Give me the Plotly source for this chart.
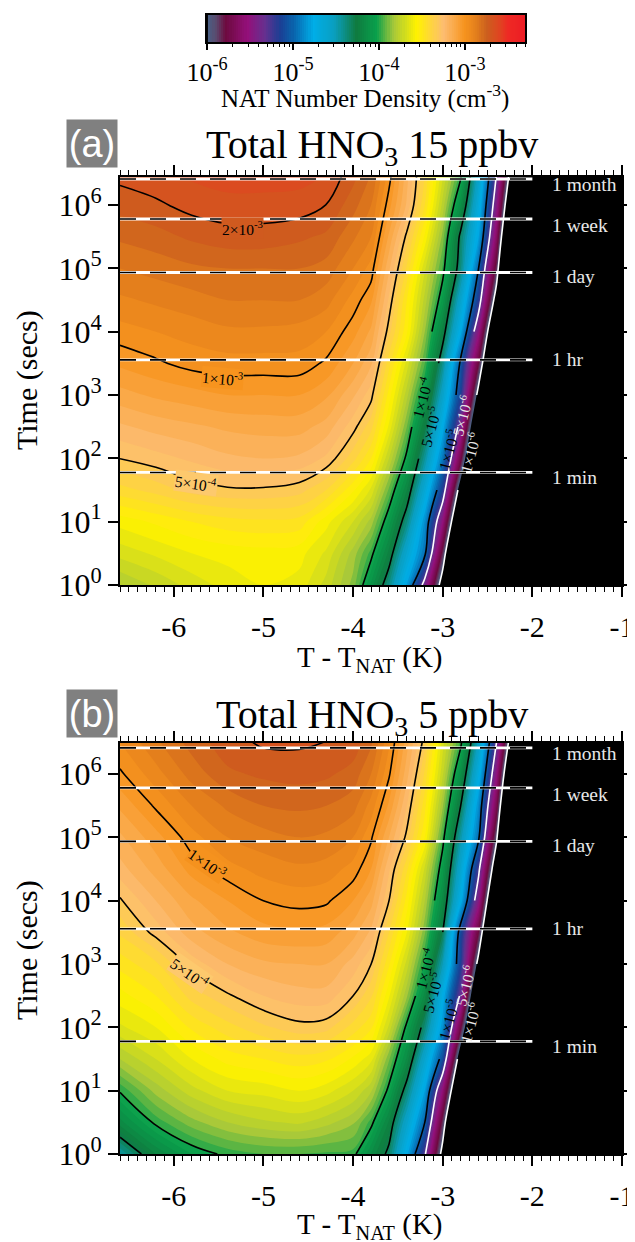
import numpy as np
import plotly.graph_objects as go

W, H = 635, 1242
OFF = 8   # the page adds an 8 px margin at the left and top

# ---------- data (log10 of NAT number density, cm-3) ----------
T_MINUS_TNAT = [-6.6, -6.2, -5.8, -5.4, -5.0, -4.6, -4.3, -4.0, -3.8, -3.6, -3.4, -3.2, -3.0, -2.8, -2.6, -2.4, -2.2, -2.0, -1.0]
LOG_TIME = [0, 0.5, 1, 1.5, 2, 2.5, 3, 3.5, 4, 4.5, 5, 5.5, 6, 6.5]

BLK = [-7.6] * 14

# one list per temperature column, rows follow LOG_TIME
density_a = [
    [-3.80, -3.68, -3.58, -3.42, -3.30, -3.21, -3.12, -3.04, -2.97, -2.91, -2.85, -2.79, -2.73, -2.68],
    [-3.74, -3.64, -3.54, -3.38, -3.27, -3.18, -3.09, -3.01, -2.95, -2.89, -2.83, -2.77, -2.71, -2.66],
    [-3.68, -3.60, -3.50, -3.33, -3.24, -3.16, -3.07, -2.98, -2.93, -2.87, -2.81, -2.74, -2.68, -2.64],
    [-3.63, -3.58, -3.47, -3.31, -3.21, -3.14, -3.05, -2.97, -2.91, -2.85, -2.80, -2.72, -2.67, -2.62],
    [-3.60, -3.57, -3.46, -3.31, -3.20, -3.13, -3.05, -2.97, -2.91, -2.85, -2.80, -2.72, -2.67, -2.62],
    [-3.62, -3.58, -3.47, -3.33, -3.21, -3.13, -3.05, -2.97, -2.92, -2.85, -2.80, -2.74, -2.67, -2.63],
    [-3.72, -3.66, -3.58, -3.40, -3.26, -3.17, -3.09, -3.01, -2.95, -2.88, -2.82, -2.76, -2.70, -2.65],
    [-3.87, -3.82, -3.70, -3.54, -3.38, -3.28, -3.19, -3.10, -3.03, -2.97, -2.90, -2.84, -2.78, -2.73],
    [-4.11, -3.97, -3.82, -3.66, -3.50, -3.38, -3.28, -3.19, -3.11, -3.04, -2.97, -2.90, -2.85, -2.80],
    [-4.40, -4.22, -4.07, -3.91, -3.75, -3.61, -3.52, -3.43, -3.33, -3.26, -3.19, -3.11, -3.03, -2.97],
    [-4.81, -4.61, -4.39, -4.20, -4.03, -3.90, -3.78, -3.67, -3.54, -3.50, -3.41, -3.32, -3.21, -3.18],
    [-5.39, -4.96, -4.86, -4.64, -4.44, -4.26, -4.09, -3.95, -3.85, -3.77, -3.69, -3.56, -3.45, -3.40],
    [-6.15, -5.84, -5.52, -5.17, -4.93, -4.75, -4.57, -4.41, -4.23, -4.07, -3.96, -3.87, -3.77, -3.69],
    [-7.20, -6.90, -6.50, -6.15, -5.73, -5.40, -5.15, -5.04, -4.76, -4.59, -4.39, -4.34, -4.14, -3.97],
    [-7.60, -7.60, -7.40, -7.10, -6.80, -6.45, -6.10, -5.78, -5.49, -5.18, -5.00, -4.79, -4.68, -4.56],
    [-7.60, -7.60, -7.60, -7.60, -7.60, -7.60, -7.20, -6.80, -6.50, -6.15, -5.85, -5.62, -5.45, -5.30],
    [-7.60, -7.60, -7.60, -7.60, -7.60, -7.60, -7.60, -7.60, -7.60, -7.60, -7.40, -7.00, -6.60, -6.30],
    BLK,
    BLK,
]

density_b = [
    [-4.45, -4.17, -3.99, -3.80, -3.66, -3.57, -3.48, -3.39, -3.31, -3.22, -3.16, -3.09, -3.01, -2.95],
    [-4.20, -3.98, -3.83, -3.70, -3.60, -3.50, -3.41, -3.28, -3.20, -3.13, -3.07, -2.99, -2.92, -2.86],
    [-4.05, -3.87, -3.72, -3.60, -3.49, -3.38, -3.28, -3.17, -3.11, -3.03, -2.97, -2.90, -2.83, -2.78],
    [-3.98, -3.80, -3.65, -3.53, -3.42, -3.31, -3.20, -3.11, -3.05, -2.97, -2.90, -2.84, -2.76, -2.72],
    [-3.95, -3.76, -3.63, -3.50, -3.36, -3.25, -3.16, -3.07, -3.00, -2.93, -2.87, -2.80, -2.74, -2.69],
    [-3.95, -3.74, -3.60, -3.47, -3.32, -3.22, -3.15, -3.06, -2.98, -2.91, -2.85, -2.79, -2.73, -2.69],
    [-3.96, -3.78, -3.63, -3.49, -3.33, -3.22, -3.15, -3.07, -2.99, -2.92, -2.86, -2.80, -2.74, -2.70],
    [-3.97, -3.84, -3.70, -3.56, -3.42, -3.30, -3.22, -3.13, -3.05, -2.97, -2.90, -2.83, -2.77, -2.72],
    [-4.15, -3.97, -3.79, -3.63, -3.49, -3.39, -3.30, -3.21, -3.13, -3.05, -2.99, -2.92, -2.85, -2.79],
    [-4.34, -4.21, -4.03, -3.89, -3.71, -3.59, -3.49, -3.40, -3.30, -3.24, -3.15, -3.06, -2.99, -2.94],
    [-4.77, -4.58, -4.37, -4.16, -4.03, -3.84, -3.72, -3.60, -3.52, -3.44, -3.32, -3.25, -3.18, -3.13],
    [-5.27, -5.00, -4.80, -4.60, -4.37, -4.17, -4.02, -3.89, -3.80, -3.71, -3.55, -3.48, -3.41, -3.33],
    [-6.10, -5.85, -5.55, -5.09, -4.85, -4.73, -4.50, -4.30, -4.17, -4.07, -3.96, -3.84, -3.74, -3.68],
    [-7.20, -6.90, -6.50, -6.20, -5.75, -5.34, -5.15, -5.10, -4.74, -4.61, -4.47, -4.30, -4.14, -3.97],
    [-7.60, -7.60, -7.40, -7.10, -6.80, -6.50, -6.10, -5.78, -5.46, -5.25, -4.97, -4.86, -4.70, -4.54],
    [-7.60, -7.60, -7.60, -7.60, -7.60, -7.60, -7.20, -6.90, -6.60, -6.25, -5.95, -5.70, -5.50, -5.30],
    [-7.60, -7.60, -7.60, -7.60, -7.60, -7.60, -7.60, -7.60, -7.60, -7.60, -7.50, -7.10, -6.70, -6.35],
    BLK,
    BLK,
]

CONTOUR_LEVELS = [2e-3, 1e-3, 5e-4, 1e-4, 5e-5, 1e-5, 5e-6, 1e-6]
LINE_COLORS = ["black"] * 6 + ["white"] * 2
# rows of LOG_TIME left out of a line, where its rotated label sits
LABEL_GAP_ROWS = {1e-4: (5, 7), 5e-5: (4, 6), 1e-5: (3, 5), 5e-6: (5, 7), 1e-6: (3, 5)}

TIME_MARKS = [60, 3600, 86400, 604800, 2592000]
TIME_NAMES = ["1 min", "1 hr", "1 day", "1 week", "1 month"]
TIME_NAME_SHIFT = [5, 0, 4, 6, 5]

COLOR_STOPS = [
    (-6.00, "#46648a"), (-5.90, "#5a4a6e"), (-5.78, "#6d0a3f"), (-5.53, "#94107a"),
    (-5.33, "#66308f"), (-5.15, "#1b3f94"), (-5.00, "#0a62ab"), (-4.76, "#00aee8"),
    (-4.52, "#0a9fc0"), (-4.26, "#0f7b3f"), (-4.03, "#09a04c"), (-3.83, "#a7c83a"),
    (-3.56, "#fff200"), (-3.25, "#fdbd72"), (-3.00, "#f7941e"), (-2.85, "#e07b1c"),
    (-2.75, "#cc5f1e"), (-2.62, "#dc4a20"), (-2.50, "#ee2a24"), (-2.30, "#ed1c24"),
]

CB_TICKS = [1e-6, 1e-5, 1e-4, 1e-3]
CB_TICK_TEXT = ["10<sup>-6</sup>", "10<sup>-5</sup>", "10<sup>-4</sup>", "10<sup>-3</sup>"]
Y_TICKS = [1, 10, 100, 1000, 1e4, 1e5, 1e6]
Y_TICK_TEXT = ["10<sup>%d</sup>" % i for i in range(7)]
X_TICKS = [-6, -5, -4, -3, -2, -1]
X_TICK_TEXT = ["-6", "-5", "-4", "-3", "-2", "-1"]

# ---------- helpers ----------
SERIF = "Liberation Serif"
SANS = "Liberation Sans"
LSTART, LSIZE = -6.0, 0.05
LEND = -2.3
LO, HI = LSTART - LSIZE / 2, LSTART + 75 * LSIZE - LSIZE / 2
def nrm(v):
    return (v - LO) / (HI - LO)
colorscale = [[0, "#000000"], [nrm(-6.0), "#000000"]]
for v, c in COLOR_STOPS:
    colorscale.append([min(1, nrm(v) + 1e-6), c])
colorscale.append([1, COLOR_STOPS[-1][1]])

def fx(px): return (px - OFF) / W
def fy(py): return 1 - (py - OFF) / H

ys = [10 ** v for v in LOG_TIME]
fig = go.Figure()

panels = [
    dict(z=np.array(density_a).T, xa="x", ya="y"),
    dict(z=np.array(density_b).T, xa="x2", ya="y2"),
]
for p in panels:
    z = p["z"]
    fig.add_trace(go.Contour(
        x=T_MINUS_TNAT, y=ys, z=z, xaxis=p["xa"], yaxis=p["ya"], colorscale=colorscale,
        autocontour=False, showscale=False,
        contours=dict(coloring="fill", start=LSTART, end=LEND, size=LSIZE),
        line=dict(width=0, smoothing=1.0), hoverinfo="skip"))
    for lev, col in zip(CONTOUR_LEVELS, LINE_COLORS):
        lz = float(np.log10(lev))
        gap = LABEL_GAP_ROWS.get(lev)
        spans = [(0, len(LOG_TIME))] if gap is None else [(0, gap[0] + 1), (gap[1] + 1, len(LOG_TIME))]
        for i0, i1 in spans:
            fig.add_trace(go.Contour(
                x=T_MINUS_TNAT, y=ys[i0:i1], z=z[i0:i1], xaxis=p["xa"], yaxis=p["ya"],
                autocontour=False, showscale=False, colorscale=[[0, col], [1, col]],
                contours=dict(coloring="none", start=lz, end=lz, size=1),
                line=dict(color=col, width=1.6, smoothing=1.0), hoverinfo="skip"))
    for t in TIME_MARKS:
        fig.add_trace(go.Scatter(x=[-6.6, -2.0], y=[t, t], xaxis=p["xa"], yaxis=p["ya"], mode="lines",
                                 line=dict(color="white", width=2.8), hoverinfo="skip", showlegend=False))
        fig.add_trace(go.Scatter(x=[-6.6, -2.0], y=[t, t], xaxis=p["xa"], yaxis=p["ya"], mode="lines",
                                 line=dict(color="black", width=1.6, dash="16px,14px"), hoverinfo="skip", showlegend=False))

# colour bar strip
cb_levels = np.linspace(-6.0, -2.3, 150)
fig.add_trace(go.Heatmap(x=10 ** cb_levels, y=[0, 1], z=[cb_levels, cb_levels], xaxis="x3", yaxis="y3",
                         colorscale=colorscale, zmin=LO, zmax=HI, showscale=False, hoverinfo="skip"))

def x_axis(domain, anchor):
    return dict(domain=domain, anchor=anchor, range=[-6.6, -1], tickmode="array", tickvals=X_TICKS, ticktext=X_TICK_TEXT,
                ticks="outside", ticklen=10, tickwidth=1.5, linewidth=2, linecolor="black", mirror="ticks",
                showgrid=False, zeroline=False, automargin=False,
                tickfont=dict(family=SERIF, size=30, color="black"), tickcolor="black",
                minor=dict(dtick=0.1, tick0=-7, ticks="outside", ticklen=5, tickwidth=1.2, tickcolor="black", showgrid=False),
                ticklabelstandoff=4)

def y_axis(domain, anchor, top):
    return dict(domain=domain, anchor=anchor, type="log", range=[0, top], tickmode="array", tickvals=Y_TICKS,
                ticktext=Y_TICK_TEXT, ticks="outside", ticklen=10, tickwidth=1.5, linewidth=2, linecolor="black",
                mirror="ticks", showgrid=False, zeroline=False, tickcolor="black", automargin=False,
                tickfont=dict(family=SERIF, size=32, color="black"))

xdom = [fx(120), fx(622)]
minor_vals = [m * 10 ** e for e in range(-6, -2) for m in range(2, 10) if m * 10 ** e <= 5.01e-3]
fig.update_layout(
    width=W, height=H, margin=dict(l=0, r=0, t=0, b=0, autoexpand=False), paper_bgcolor="white", plot_bgcolor="black",
    showlegend=False, font=dict(family=SERIF, color="black"),
    xaxis=x_axis(xdom, "y"), yaxis=y_axis([fy(585), fy(177)], "x", 6.445),
    xaxis2=x_axis(xdom, "y2"), yaxis2=y_axis([fy(1154), fy(743)], "x2", 6.49),
    xaxis3=dict(domain=[fx(207), fx(525)], anchor="y3", type="log", range=[-6, np.log10(5e-3)], tickmode="array",
                tickvals=CB_TICKS, ticktext=CB_TICK_TEXT, ticks="outside", ticklen=6, tickwidth=1.5, tickcolor="black",
                linewidth=2, linecolor="black", mirror=True, showgrid=False, zeroline=False, automargin=False,
                tickfont=dict(family=SERIF, size=26, color="black"),
                minor=dict(tickmode="array", tickvals=minor_vals, ticks="outside", ticklen=3, tickwidth=1, tickcolor="black", showgrid=False)),
    yaxis3=dict(domain=[fy(42), fy(15)], anchor="x3", range=[0, 1], showticklabels=False, ticks="", linewidth=2,
                linecolor="black", mirror=True, showgrid=False, zeroline=False),
)

def note(text, px, py, size, color="black", family=SERIF, angle=0, anchor="center", bg=None, **kw):
    fig.add_annotation(text=text, x=fx(px), y=fy(py), xref="paper", yref="paper", showarrow=False, xanchor=anchor,
                       yanchor="middle", textangle=angle, font=dict(family=family, size=size, color=color),
                       bgcolor=bg, borderpad=0, **kw)

note("NAT Number Density (cm<sup>-3</sup>)", 365, 97, 25)
note("Total HNO<sub>3</sub> 15 ppbv", 372, 147, 40)
note("Total HNO<sub>3</sub> 5 ppbv", 372, 717, 40)
note("(a)", 92, 143, 38, color="white", family=SANS, bg="#808080", width=50, height=47, align="center")
note("(b)", 92, 713, 38, color="white", family=SANS, bg="#808080", width=50, height=47, align="center")
for py in (659, 1226):
    note("T - T<sub>NAT</sub> (K)", 370, py, 29)
for py in (380, 950):
    note("Time (secs)", 27, py, 30, angle=-90)

for bot in (585, 1154):
    scale = 63.3
    for t, name, shift in zip(TIME_MARKS, TIME_NAMES, TIME_NAME_SHIFT):
        py = bot - np.log10(t) * scale + shift
        note(name, 551, py, 19.5, color="#e8e8e8", anchor="left")

LBL = 15.5
for txt, px, py, ang, col in [
    ("1×10<sup>-4</sup>", 422, 397, -75, "black"), ("5×10<sup>-5</sup>", 430, 427, -75, "black"),
    ("1×10<sup>-5</sup>", 448, 450, -75, "black"), ("5×10<sup>-6</sup>", 462, 415, -75, "#e6e6e6"),
    ("1×10<sup>-6</sup>", 470, 452, -75, "#e6e6e6"),
    ("1×10<sup>-4</sup>", 425, 968, -75, "black"), ("5×10<sup>-5</sup>", 432, 993, -75, "black"),
    ("1×10<sup>-5</sup>", 448, 1020, -75, "black"), ("5×10<sup>-6</sup>", 465, 985, -75, "#e6e6e6"),
    ("1×10<sup>-6</sup>", 470, 1022, -75, "#e6e6e6"),
]:
    note(txt, px, py, LBL, color=col, angle=ang)

for txt, px, py, ang, bg in [
    ("2×10<sup>-3</sup>", 242, 228, 0, "#d05a1f"), ("1×10<sup>-3</sup>", 222, 378, 5, "#f7941e"),
    ("5×10<sup>-4</sup>", 196, 483, 8, "#fdc96d"), ("1×10<sup>-3</sup>", 207, 863, 35, "#f5921e"),
    ("5×10<sup>-4</sup>", 190, 973, 35, "#fdc96d"),
]:
    note(txt, px, py, LBL, angle=ang, bg=bg)

fig.write_html("out.html")
